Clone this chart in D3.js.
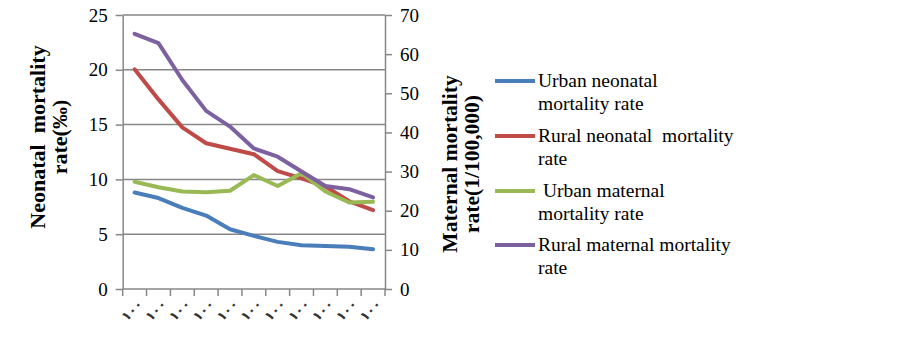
<!DOCTYPE html>
<html>
<head>
<meta charset="utf-8">
<script src="https://cdn.jsdelivr.net/npm/d3@7"></script>
<style>
  body { margin: 0; background: #fff; }
  svg { display: block; }
  svg text { font-family: "Liberation Serif", "Times New Roman", serif; }
  svg text.xl { font-family: "DejaVu Serif", "DejaVu Sans", serif; }
</style>
</head>
<body>
<svg id="chart" width="903" height="352"></svg>
<script>
// categories (x labels as printed in the source)
const years = ["a", "b", "c", "d", "e", "f", "g", "h", "i", "j", "k"];
const yearLabel = "\u0661\u0660\u0660";

// left axis series (‰)
const urbanNeonatal = [8.8, 8.3, 7.4, 6.7, 5.45, 4.85, 4.3, 4.0, 3.92, 3.86, 3.62];
const ruralNeonatal = [20.05, 17.3, 14.75, 13.3, 12.8, 12.3, 10.75, 10.1, 9.35, 8.0, 7.2];
// right axis series (1/100,000)
const urbanMaternal = [27.4, 26.0, 24.9, 24.7, 25.1, 29.1, 26.3, 29.6, 24.9, 22.1, 22.3];
const ruralMaternal = [65.2, 62.8, 53.4, 45.5, 41.5, 35.9, 33.8, 30.0, 26.3, 25.5, 23.4];

const leftTicks = [0, 5, 10, 15, 20, 25];
const rightTicks = [0, 10, 20, 30, 40, 50, 60, 70];

const series = [
  { name: ["Urban neonatal", "mortality rate"], values: urbanNeonatal, axis: "left", color: "#4A7EBB" },
  { name: ["Rural neonatal\u00a0 mortality", "rate"], values: ruralNeonatal, axis: "left", color: "#BE4B48" },
  { name: ["\u00a0Urban maternal", "mortality rate"], values: urbanMaternal, axis: "right", color: "#98B954" },
  { name: ["Rural maternal mortality", "rate"], values: ruralMaternal, axis: "right", color: "#7D60A0" }
];

const svg = d3.select("#chart");
const grid = "#878787";

const x = d3.scaleBand().domain(years.map((d, i) => i)).range([122.7, 385]);
const yL = d3.scaleLinear().domain([0, 25]).range([289, 15]);
const yR = d3.scaleLinear().domain([0, 70]).range([289, 15]);

// gridlines
svg.append("g")
  .selectAll("line")
  .data(leftTicks.filter(d => d > 0))
  .enter()
  .append("line")
  .attr("x1", 122.7).attr("x2", 385)
  .attr("y1", d => yL(d)).attr("y2", d => yL(d))
  .attr("stroke", grid).attr("stroke-width", 1.5);

// --- left axis ---
const gL = svg.append("g").attr("transform", "translate(122.7,0)")
  .call(d3.axisLeft(yL).tickValues(leftTicks).tickSize(7).tickPadding(8).tickSizeOuter(0));
// --- right axis ---
const gR = svg.append("g").attr("transform", "translate(385,0)")
  .call(d3.axisRight(yR).tickValues(rightTicks).tickSize(7).tickPadding(8).tickSizeOuter(0));
// --- bottom axis ---
const bounds = d3.range(years.length + 1).map(i => 122.7 + i * x.step());
const gB = svg.append("g").attr("transform", "translate(0,289)");
gB.append("line").attr("x1", 122.7).attr("x2", 385).attr("stroke", grid).attr("stroke-width", 1.5);
gB.selectAll(".tk").data(bounds).enter().append("line")
  .attr("x1", d => d).attr("x2", d => d).attr("y1", 0).attr("y2", 7)
  .attr("stroke", grid).attr("stroke-width", 1.5);
gB.selectAll(".lab").data(years).enter().append("text")
  .attr("class", "xl")
  .attr("transform", (d, i) => `translate(${x(i) + x.bandwidth() / 2 + 9},${16}) rotate(-45)`)
  .attr("text-anchor", "end")
  .style("font-size", "13px")
  .style("font-weight", "bold")
  .attr("fill", "#333")
  .text(yearLabel);

[gL, gR].forEach(g => {
  g.attr("font-family", null);
  g.select(".domain").attr("stroke", grid).attr("stroke-width", 1.5);
  g.selectAll(".tick line").attr("stroke", grid).attr("stroke-width", 1.5);
  g.selectAll(".tick text")
    .style("font-size", "19px")
    .attr("fill", "#000");
});

// --- lines ---
series.forEach(s => {
  const y = s.axis === "left" ? yL : yR;
  const line = d3.line()
    .x((d, i) => x(i) + x.bandwidth() / 2)
    .y(d => y(d));
  svg.append("path")
    .datum(s.values)
    .attr("d", line)
    .attr("fill", "none")
    .attr("stroke", s.color)
    .attr("stroke-width", 4)
    .attr("stroke-linejoin", "round")
    .attr("stroke-linecap", "round");
});

// --- axis titles ---
const titleL = svg.append("text")
  .attr("transform", "translate(45,137) rotate(-90)")
  .attr("text-anchor", "middle")
  .style("font-size", "22px")
  .style("font-weight", "bold");
titleL.append("tspan").attr("x", 0).attr("dy", 0).text("Neonatal\u00a0 mortality");
titleL.append("tspan").attr("x", 0).attr("dy", 22).text("rate(\u2030)");

const titleR = svg.append("text")
  .attr("transform", "translate(457,164) rotate(-90)")
  .attr("text-anchor", "middle")
  .style("font-size", "21.5px")
  .style("font-weight", "bold");
titleR.append("tspan").attr("x", 0).attr("dy", 0).text("Maternal mortality");
titleR.append("tspan").attr("x", 0).attr("dy", 22).text("rate(1/100,000)");

// --- legend ---
const legend = svg.append("g");
const rowY = [81, 136, 191, 245];
series.forEach((s, i) => {
  const gi = legend.append("g").attr("transform", `translate(495,${rowY[i]})`);
  gi.append("line").attr("x1", 0).attr("x2", 40).attr("y1", 0).attr("y2", 0)
    .attr("stroke", s.color).attr("stroke-width", 4);
  const t = gi.append("text").attr("x", 43).attr("y", 6).style("font-size", "19.5px");
  s.name.forEach((n, k) => {
    t.append("tspan").attr("x", 43).attr("dy", k === 0 ? 0 : 23).text(n);
  });
});
</script>
</body>
</html>
